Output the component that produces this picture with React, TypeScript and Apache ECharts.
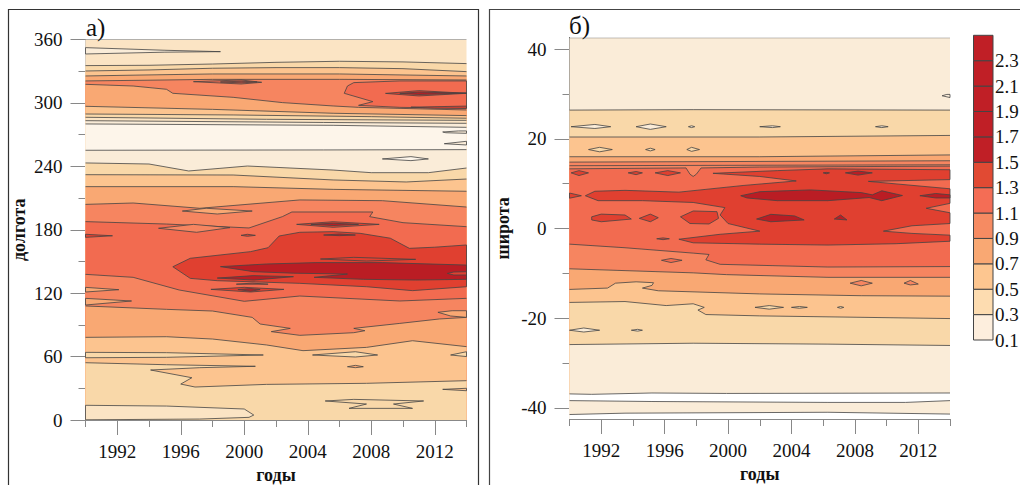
import React, { useEffect, useRef } from "react";
import * as echarts from "echarts";

const FONT = "Liberation Serif";
const palette = ["#fdf5ea", "#faecd8", "#fbe4c4", "#f9d8a9", "#fcc48f", "#f9a873", "#f68560", "#f26b50", "#e04030", "#ba1d24"];
const WHITE = "#ffffff";

const yearsMajor = [1992, 1996, 2000, 2004, 2008, 2012];
const yearsMinor = [1990, 1994, 1998, 2002, 2006, 2010, 2014];
const lonMajor = [0, 60, 120, 180, 240, 300, 360];
const lonMinor = [30, 90, 150, 210, 270, 330];
const latMajor = [-40, -20, 0, 20, 40];
const latMinor = [-30, -10, 10, 30];
const barLabels = ["0.1", "0.3", "0.5", "0.7", "0.9", "1.1", "1.3", "1.5", "1.7", "1.9", "2.1", "2.3", ""];
const barCellColors = ["#fdeedd", "#fddcb0", "#fdc690", "#f9a873", "#f68b62", "#f46d55", "#e14a33", "#c01f26", "#c01f26", "#c01f26", "#c01f26", "#c01f26"];

// [colour level below the contour, [year, longitude, ...]]
const bandsA: [number, number[]][] = [
  [2, [1990, 360, 2014, 360]],
  [3, [1990, 335.3, 1994, 335.6, 1998, 336.8, 2002, 338.4, 2006, 339.4, 2010, 338.8, 2014, 337.2]],
  [4, [1990, 330.2, 1994, 331.2, 1998, 332.8, 2002, 333.4, 2006, 333.4, 2010, 332.4, 2014, 329.6]],
  [5, [1990, 325.5, 1994, 326.5, 1998, 327.4, 2006, 327.4, 2014, 325.5]],
  [6, [1990, 320.8, 1994, 321.5, 1998, 322.3, 2006, 322.3, 2014, 321.7]],
  [5, [1990, 317.6, 1993, 316, 1995.1, 312.9, 1995.5, 309.1, 1999.3, 305.3, 2002.4, 300.3, 2005.6, 297.1, 2007.2, 295.8, 2014, 293.3]],
  [4, [1990, 296.8, 1998, 293.9, 2005.6, 290.2, 2014, 288]],
  [3, [1990, 289.5, 1999.3, 288.6, 2008, 287, 2014, 285.5]],
  [2, [1990, 286.4, 2001.4, 284.5, 2014, 283.5]],
  [1, [1990, 283.2, 2005, 281.5, 2014, 280.7]],
  [0, [1990, 280.1, 2005.6, 278.8, 2014, 276.9]],
  [1, [1990, 255.2, 2005, 255.5, 2014, 255.8]],
  [3, [1990, 243.2, 1994, 242.2, 1996.5, 235.6, 2000.2, 240.3, 2005.6, 236.5, 2008, 234, 2011.6, 234, 2014, 238.4]],
  [4, [1990, 232.1, 1999.3, 231.8, 2005.6, 227.1, 2010.2, 225.2, 2014, 228]],
  [5, [1990, 220.8, 1999.3, 220.8, 2005.6, 218.2, 2014, 216.4]],
  [6, [1990, 204, 1993, 205.3, 1997.2, 200.3, 2003.5, 208.2, 2008.7, 207.5, 2014, 201.5]],
  [7, [1990, 187.7, 1995.1, 185.4, 2000.3, 181.7, 2002.4, 192.4, 2003, 196.8, 2008.1, 196.8, 2007.9, 192.4, 2010, 186.7, 2014, 182.9]],
  [6, [1990, 137.8, 1993, 135, 1995.9, 123, 2000, 112.3, 2003.5, 117.3, 2009.8, 112.6, 2014, 115.1]],
  [5, [1990, 107.9, 1995.1, 104.7, 1998, 103.1, 2000.5, 97.1, 2001, 90.8, 2002.9, 86.7, 2001.7, 83.6, 2003.5, 80.1, 2006.9, 82.6, 2007.6, 84.5, 2006.9, 86.7, 2009.8, 91.4, 2012.3, 95.6, 2014, 97.1]],
  [4, [1990, 78.2, 1995.1, 78.8, 1998, 76.6, 2001.4, 71, 2003.7, 65.6, 2007.7, 68.7, 2010.6, 75, 2014, 69.4]],
  [3, [1990, 54.2, 1995.1, 52.3, 2000.7, 50.8, 1997.2, 49.5, 1994.1, 47.3, 1996.7, 40, 1996, 34, 1996.9, 31.2, 2001.4, 33.7, 2007.7, 34.7, 2014, 37.2]],
];

const islandsA: [number, number[]][] = [
  [1, [1990, 352.3, 1995, 349.8, 1998.5, 348.5, 1995, 348, 1990, 346.3]],
  [7, [2006.9, 319.2, 2009.8, 320.8, 2014, 320.8, 2014, 294.9, 2009.8, 295.8, 2007.2, 297.7, 2008.1, 301.2, 2006.3, 309.1, 2006.5, 316]],
  [8, [2010.5, 296, 2014, 297, 2014, 294.9, 2012, 295]],
  [8, [2008.9, 309, 2011, 311.6, 2014, 309.1, 2011, 306.6]],
  [9, [2009.8, 309.1, 2011, 310.2, 2014, 309.3, 2011, 308]],
  [7, [1996.8, 320.1, 1999.8, 321.7, 2001.1, 319.5, 1999.8, 317.9]],
  [8, [1998.5, 319.8, 1999.8, 320.5, 2000.8, 319.8, 1999.8, 319]],
  [1, [2012.5, 272.5, 2013.5, 273.5, 2014, 273.5, 2014, 271.2, 2012.7, 271.8]],
  [1, [2012.6, 261.4, 2014, 263.7, 2014, 260.2]],
  [0, [2008.7, 247, 2010.5, 249.2, 2011.6, 247, 2010.5, 245.4]],
  [5, [1996.1, 197.7, 1997.6, 200.3, 2000.5, 197.7, 1998.3, 194.9]],
  [6, [1994.6, 181.4, 1996.8, 185.1, 1999.1, 182, 1997, 177.6]],
  [8, [1990, 175.7, 1991.7, 174.3, 1990, 172.8]],
  [8, [1999.8, 174.7, 2000.2, 175.7, 2000.7, 174.7, 2000.2, 173.8]],
  [8, [1995.5, 145, 1996.6, 153, 2000.4, 159.3, 2001.5, 163, 2002.2, 174.1, 2003.5, 177.6, 2005.6, 178.2, 2007.3, 176.6, 2009.2, 172, 2010.4, 162.4, 2012, 163.5, 2014, 165.6, 2014, 126.1, 2010.6, 122.4, 2007.7, 126.1, 2003.5, 129.3, 1998.3, 131.8, 1996.6, 134]],
  [8, [2003.3, 185.1, 2005.6, 187.6, 2008.5, 185.1, 2005.6, 182.3]],
  [9, [2004.2, 185.1, 2005.6, 186.2, 2007.2, 185.1, 2005.6, 184]],
  [9, [2005, 175, 2006, 176, 2007, 175, 2006, 174.4]],
  [9, [1998.5, 145.1, 2001.4, 147.6, 2004.5, 148.9, 2008.7, 148.9, 2014, 146.6, 2014, 133.1, 2010.8, 132.4, 2007.5, 133.1, 2004.4, 135, 2006.5, 138.1, 2003.1, 138.9, 2000.6, 140.3]],
  [9, [1998.3, 134.3, 2000.6, 136.6, 2003.1, 135.6, 2000.6, 132.4]],
  [8, [2004.8, 152.3, 2006.9, 153.9, 2010.8, 152, 2007.7, 150.4]],
  [8, [2012.8, 138.7, 2013.2, 140, 2014, 140.3, 2014, 137.2, 2013.2, 137.2]],
  [8, [1997.9, 123.6, 2000, 125.5, 2002.5, 123.6, 2000.4, 121.1]],
  [9, [1999.6, 123.4, 2000.4, 124.3, 2001, 123.4, 2000.4, 121.8]],
  [8, [1999.5, 128.5, 2000.5, 129.5, 2001.5, 128.5]],
  [5, [1990, 125.5, 1992.1, 123.3, 1990, 121.1]],
  [5, [1990, 115.1, 1992.9, 112.6, 1990, 108.8]],
  [5, [2012.2, 101.9, 2013.1, 103.4, 2014, 103.4, 2014, 97.1, 2013, 98.4]],
  [3, [2004.3, 61.5, 2007, 64.6, 2008.4, 61.5, 2007, 59.6]],
  [3, [2013, 61.5, 2014, 64.6, 2014, 60]],
  [5, [2006.5, 50.4, 2007, 51.7, 2007.5, 50.4, 2007, 49.5]],
  [3, [1990, 64, 1995.1, 63.7, 2001.2, 61.5, 1995.1, 59.3, 1990, 58.9]],
  [4, [2012.5, 29, 2014, 30, 2014, 27.7]],
  [3, [2005.1, 18, 2006.9, 19.5, 2011.3, 18, 2009.4, 15.1, 2010.6, 11, 2006.6, 11, 2007.7, 15.1]],
  [2, [1990, 13.9, 1995.1, 13.2, 2000, 10.4, 2000.6, 4.7, 2000.3, 2.5, 1997.2, 0.9, 1990, 0.2]],
];

// [colour level below the contour, [year, latitude, ...]]
const bandsB: [number, number[]][] = [
  [1, [1990, 42.55, 2014, 42.55]],
  [3, [1990, 26.4, 1997.8, 26.5, 2014, 26.4]],
  [4, [1990, 20.4, 2002, 20.4, 2014, 20.75]],
  [5, [1990, 16, 2002, 16, 2014, 16.4]],
  [6, [1990, 14.8, 2014, 15.1]],
  [6, [1990, 14, 2014, 14.2]],
  [7, [1990, 13.3, 1997.35, 13.5, 1997.6, 12.1, 1997.8, 11.6, 1998, 12.1, 1998.3, 13.5, 2002, 13.7, 2014, 13.9]],
  [6, [1990, -3.5, 1993.5, -4.3, 1997.8, -5.5, 1998.8, -5.8, 1998.6, -7, 1999.5, -8, 2006.3, -8.6, 2014, -8.5]],
  [5, [1990, -9, 1997.8, -9.9, 1999.9, -10.3, 2006.3, -10.9, 2014, -10.9]],
  [4, [1990, -13.6, 1992.4, -13.3, 1992.9, -12.2, 1994.2, -11.9, 1995.3, -12.1, 1995.2, -12.7, 1994.6, -13.3, 1995.6, -13.9, 2002, -14.6, 2008.4, -15, 2014, -15.1]],
  [3, [1990, -16.5, 1993.5, -16.3, 1996.1, -17.2, 1997.8, -16.8, 1998.5, -17.6, 1998.1, -18.2, 1998.6, -19.2, 2002, -19.5, 2014, -20.1]],
  [1, [1990, -25.9, 1997.8, -25.6, 2006.3, -25.8, 2014, -26.1]],
  [-1, [1990, -36.9, 1991.4, -37, 1995.2, -36.7, 1999.9, -36.8, 2014, -36.7]],
  [1, [1990, -38.4, 1995.2, -38.6, 2006.3, -38.8, 2011.2, -38.8, 2014, -38.4]],
  [-1, [1990, -41.5, 1993.5, -41.2, 2006.3, -41, 2014, -41.4]],
];

const islandsB: [number, number[]][] = [
  [1, [2013.5, 29.6, 2013.8, 29.9, 2014, 29.9, 2014, 29.2]],
  [1, [1990.1, 22.7, 1991.6, 23.2, 1992.6, 22.7, 1991.6, 22.3]],
  [1, [1994.2, 22.7, 1995.1, 23.3, 1996.1, 22.7, 1995.1, 22.1]],
  [1, [1997.5, 22.7, 1997.7, 22.9, 1997.9, 22.7, 1997.7, 22.5]],
  [1, [2002, 22.7, 2002.8, 22.9, 2003.3, 22.7, 2002.8, 22.5]],
  [1, [2009.3, 22.7, 2009.7, 22.9, 2010.1, 22.7, 2009.7, 22.5]],
  [3, [1991.2, 17.6, 1991.9, 18.1, 1992.7, 17.6, 1991.9, 17.1]],
  [3, [1994.8, 17.6, 1995.1, 17.9, 1995.4, 17.6, 1995.1, 17.3]],
  [3, [1997.4, 17.6, 1997.7, 18.1, 1998.2, 17.6, 1997.7, 17.2]],
  [8, [2014, 13.1, 2006.3, 13.3, 2003.1, 12.9, 1999.05, 12.3, 2002, 11.6, 2004.3, 10.6, 2001, 9.6, 1996.9, 8.1, 1993.5, 8.5, 1991.6, 8.3, 1991, 7.3, 1991.8, 6.2, 1994.6, 6.2, 1997.8, 5.8, 1999.8, 4.65, 1999.5, 3, 2000, 1.1, 2002, -0.6, 1999.5, -1.3, 1996.9, -2.4, 1997.8, -3.2, 2002, -3.5, 2006.3, -3.7, 2010.6, -3.4, 2014, -2.85, 2014, -1.5, 2011.6, -1.1, 2009.8, -0.6, 2011.6, 0.6, 2014, 1.1, 2014, 3.5, 2012.5, 4.5, 2014, 5.6, 2014, 8.85, 2008.85, 10.5, 2014, 10.9]],
  [8, [1990, 7.9, 1990.75, 7.3, 1990, 6.75]],
  [8, [1990.1, 12.4, 1990.6, 12.9, 1991.2, 12.4, 1990.6, 11.8]],
  [8, [1993.7, 12.4, 1994.2, 12.7, 1994.6, 12.4, 1994.2, 12]],
  [8, [1995.4, 12.4, 1996.2, 12.9, 1997, 12.4, 1996.2, 11.8]],
  [9, [2006, 12.4, 2006.2, 12.5, 2006.4, 12.4, 2006.2, 12.2]],
  [9, [2007.4, 12.4, 2008.2, 12.8, 2009.1, 12.4, 2008.2, 11.9]],
  [9, [2000.8, 7.3, 2002, 8.2, 2005.2, 8.6, 2008.4, 8, 2009.1, 7.5, 2009.7, 8.4, 2011, 7.35, 2009.7, 6.2, 2008.9, 6.9, 2006.3, 6.2, 2003.1, 6.2, 2001.2, 6.8]],
  [9, [2012.1, 7.3, 2013.1, 7.8, 2014, 7.5, 2014, 6.8, 2013.1, 6.8]],
  [8, [1991.4, 2.6, 1992, 3.2, 1993.5, 3, 1993.9, 2.1, 1992, 1.5, 1991.4, 1.9]],
  [8, [1994.4, 2.25, 1995.1, 3.2, 1995.6, 2.4, 1995.1, 1.5]],
  [8, [1997, 2.6, 1997.8, 3.9, 1999.3, 3.75, 1999.4, 2.25, 1998.8, 1, 1997.6, 1.1]],
  [9, [2001.8, 2.1, 2002.7, 3.15, 2004.2, 2.8, 2004.8, 1.9, 2002.7, 1.5]],
  [9, [2006.7, 2.1, 2007.1, 3, 2007.5, 1.9]],
  [8, [1995.5, -2.3, 1995.9, -2.1, 1996.3, -2.3, 1995.9, -2.5]],
  [7, [1995.8, -7.1, 1996.4, -6.7, 1997.1, -7.1, 1996.4, -7.6]],
  [6, [2007.7, -12.2, 2008.4, -11.6, 2009.1, -12.2, 2008.4, -12.8]],
  [6, [2011.1, -12.2, 2011.5, -11.6, 2012, -12.4, 2011.5, -12.6]],
  [3, [2001.7, -17.6, 2002.6, -17.2, 2003.5, -17.6, 2002.6, -18]],
  [3, [2004, -17.6, 2004.5, -17.4, 2005, -17.6, 2004.5, -17.8]],
  [3, [2006.9, -17.6, 2007.1, -17.4, 2007.3, -17.6, 2007.1, -17.8]],
  [1, [1990, -22.7, 1990.9, -22.2, 1991.9, -22.7, 1990.9, -23.1]],
  [1, [1993.9, -22.7, 1994.3, -22.5, 1994.6, -22.7, 1994.3, -22.9]],
];

const colorOf = (level: number) => (level < 0 ? WHITE : palette[level]);
const LINE = "#444444";
const toPoints = (api: any, flat: number[]) => {
  const out: number[][] = [];
  for (let i = 0; i < flat.length; i += 2) out.push(api.coord([flat[i], flat[i + 1]]));
  return out;
};

function contourSeries(bands: [number, number[]][], islands: [number, number[]][], gridIndex: number, yMin: number) {
  const nb = bands.length;
  const all = [...bands, ...islands];
  return {
    type: "custom",
    xAxisIndex: gridIndex,
    yAxisIndex: gridIndex,
    silent: true,
    clip: true,
    data: all.map((r) => [r[1][0], r[1][1]]),
    renderItem: (params: any, api: any) => {
      const [level, flat] = all[params.dataIndex];
      const pts = toPoints(api, flat);
      if (params.dataIndex < nb) {
        const closed = [...pts, api.coord([2014, yMin]), api.coord([1990, yMin])];
        return {
          type: "group",
          children: [
            { type: "polygon", shape: { points: closed }, style: { fill: colorOf(level), stroke: null } },
            { type: "polyline", shape: { points: pts }, style: { fill: null, stroke: LINE, lineWidth: 0.8 } },
          ],
        };
      }
      return { type: "polygon", shape: { points: pts }, style: { fill: colorOf(level), stroke: LINE, lineWidth: 0.8 } };
    },
  };
}

const textStyle = { fontFamily: FONT, fontSize: 19, color: "#111" };

function xAxes(gridIndex: number) {
  const base = {
    type: "value", gridIndex, min: 1990, max: 2014, position: "bottom", splitLine: { show: false },
    axisLine: { show: true, onZero: false, lineStyle: { color: "#888", width: 1 } },
  };
  return [
    {
      ...base,
      name: "годы", nameLocation: "middle", nameGap: 46,
      nameTextStyle: { fontFamily: FONT, fontSize: 18, fontWeight: "bold", color: "#111" },
      axisTick: { show: true, length: 7, customValues: yearsMinor, lineStyle: { color: "#888" } },
      axisLabel: { ...textStyle, margin: 22, customValues: yearsMajor, formatter: (v: number) => String(v) },
    },
    {
      ...base,
      axisTick: { show: true, length: 15, customValues: yearsMajor, lineStyle: { color: "#888" } },
      axisLabel: { show: false },
    },
  ];
}

function yAxes(gridIndex: number, min: number, max: number, major: number[], minor: number[], name: string, gap: number, lineColor: string) {
  const base = {
    type: "value", gridIndex, min, max, position: "left", splitLine: { show: false },
    axisLine: { show: true, onZero: false, lineStyle: { color: lineColor, width: 1 } },
  };
  return [
    {
      ...base,
      name, nameLocation: "middle", nameGap: gap,
      nameTextStyle: { fontFamily: FONT, fontSize: 18, fontWeight: "bold", color: "#111" },
      axisTick: { show: true, length: 15, customValues: major, lineStyle: { color: "#888" } },
      axisLabel: { ...textStyle, margin: 23, customValues: major, formatter: (v: number) => String(v) },
    },
    {
      ...base,
      axisTick: { show: true, length: 7, customValues: minor, lineStyle: { color: "#888" } },
      axisLabel: { show: false },
    },
  ];
}

export default function App() {
  const ref = useRef<HTMLDivElement>(null);
  useEffect(() => {
    const chart = echarts.init(ref.current!, null, { renderer: "svg" });
    const xA = xAxes(0);
    const xB = xAxes(1);
    const yA = yAxes(0, 0, 360, lonMajor, lonMinor, "долгота", 58, "#bbb");
    const yB = yAxes(1, -42.5, 42.55, latMajor, latMinor, "широта", 58, "#666");
    chart.setOption({
      animation: false,
      backgroundColor: "#fff",
      title: [
        { text: "a)", left: 81, top: 10, textStyle: { fontFamily: FONT, fontSize: 25, fontWeight: "normal", color: "#111" } },
        { text: "б)", left: 564, top: 8, textStyle: { fontFamily: FONT, fontSize: 25, fontWeight: "normal", color: "#111" } },
      ],
      grid: [
        { left: 85.5, top: 39.5, width: 381, height: 380.5, outerBoundsMode: "none" },
        { left: 569.5, top: 37.7, width: 380.5, height: 381.3, outerBoundsMode: "none" },
        { left: 973.5, top: 35.3, width: 19.5, height: 304.7, outerBoundsMode: "none" },
      ],
      xAxis: [
        xA[0], xB[0],
        { type: "value", gridIndex: 2, min: 0, max: 1, show: false },
        xA[1], xB[1],
      ],
      yAxis: [
        yA[0], yB[0],
        {
          type: "value", gridIndex: 2, min: 0, max: 12, interval: 1, position: "right",
          splitLine: { show: false }, axisTick: { show: false },
          axisLine: { show: false },
          axisLabel: { ...textStyle, margin: 2, formatter: (v: number) => barLabels[v] },
        },
        yA[1], yB[1],
      ],
      series: [
        contourSeries(bandsA, islandsA, 0, 0),
        contourSeries(bandsB, islandsB, 1, -42.5),
        {
          type: "custom",
          xAxisIndex: 2,
          yAxisIndex: 2,
          silent: true,
          data: barCellColors.map((_, i) => [0, i]),
          renderItem: (params: any, api: any) => {
            const i = params.dataIndex;
            const a = api.coord([0, i]);
            const b = api.coord([1, i + 1]);
            return {
              type: "rect",
              shape: { x: a[0], y: b[1], width: b[0] - a[0], height: a[1] - b[1] },
              style: { fill: barCellColors[i], stroke: "#444", lineWidth: 1 },
            };
          },
        },
      ],
      graphic: [
        { type: "polyline", silent: true, shape: { points: [[8.5, 486], [8.5, 9.5], [478.5, 9.5], [478.5, 486]] }, style: { fill: null, stroke: "#333", lineWidth: 1.2 } },
        { type: "polyline", silent: true, shape: { points: [[489.5, 486], [489.5, 9.5], [1021, 9.5]] }, style: { fill: null, stroke: "#444", lineWidth: 1.2 } },
      ],
    });
    return () => chart.dispose();
  }, []);
  return <div ref={ref} style={{ position: "absolute", left: 0, top: 0, width: 1020, height: 485 }} />;
}
